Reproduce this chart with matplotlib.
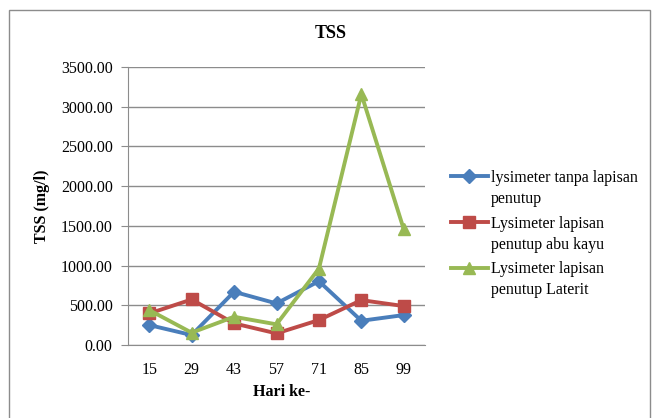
import matplotlib
matplotlib.use("Agg")
import matplotlib.pyplot as plt
from matplotlib.patches import Rectangle

days = [15, 29, 43, 57, 71, 85, 99]
tanpa_lapisan = [251, 125, 670, 523, 803, 305, 377]
abu_kayu = [397, 573, 272, 146, 314, 565, 490]
laterit = [440, 155, 355, 260, 962, 3159, 1456]
series_names = [("lysimeter tanpa lapisan", "penutup"),
                ("Lysimeter lapisan", "penutup abu kayu"),
                ("Lysimeter lapisan", "penutup Laterit")]
y_ticks = [0, 500, 1000, 1500, 2000, 2500, 3000, 3500]

plt.rcParams["font.family"] = ["Liberation Serif", "DejaVu Serif"]
FS = 11.5

W, H = 653, 418
fig = plt.figure(figsize=(W / 100, H / 100), dpi=100)
fig.patch.set_facecolor("white")
fig.patches.append(Rectangle((9 / W, -10 / H), 641 / W, 418 / H, transform=fig.transFigure,
                             fill=False, edgecolor="#8c8c8c", linewidth=1.0))

ax = fig.add_axes([128 / W, 1 - 345 / H, 297 / W, 278 / H])
x = list(range(len(days)))
ax.plot(x, tanpa_lapisan, color="#4a7ebb", lw=2.8, marker="D", ms=7, label=series_names[0][0])
ax.plot(x, abu_kayu, color="#be4b48", lw=2.8, marker="s", ms=8, label=series_names[1][0])
ax.plot(x, laterit, color="#98b954", lw=2.8, marker="^", ms=9, label=series_names[2][0])

ax.set_xlim(-0.5, len(days) - 0.5)
ax.set_ylim(0, 3500)
ax.set_yticks(y_ticks)
ax.set_yticklabels([f"{v:.2f}" for v in y_ticks], fontsize=FS)
ax.set_xticks(x)
ax.set_xticklabels([str(d) for d in days], fontsize=FS)
ax.tick_params(axis="x", length=0, pad=12)
ax.tick_params(axis="y", length=5, color="#8c8c8c", pad=6)
ax.grid(axis="y", color="#8c8c8c", lw=1.0)
ax.set_axisbelow(True)
for s in ["top", "right"]:
    ax.spines[s].set_visible(False)
for s in ["left", "bottom"]:
    ax.spines[s].set_color("#8c8c8c")

fig.text(282 / W, 1 - 392 / H, "Hari ke-", ha="center", va="center", fontsize=FS, fontweight="bold")
fig.text(42 / W, 1 - 206 / H, "TSS (mg/l)", ha="center", va="center", rotation=90,
         fontsize=FS, fontweight="bold")
fig.text(331 / W, 1 - 33 / H, "TSS", ha="center", va="center", fontsize=13, fontweight="bold")

# legend: handle sits beside the first line of each label, second line underneath
leg = fig.legend(loc="upper left", bbox_to_anchor=(451 / W, 1 - 170 / H), frameon=False,
                 fontsize=FS, handlelength=2.3, labelspacing=1.85, handletextpad=0.2,
                 borderpad=0, borderaxespad=0)
fig.canvas.draw()
renderer = fig.canvas.get_renderer()
for txt, names in zip(leg.get_texts(), series_names):
    bb = txt.get_window_extent(renderer)
    fig.text(bb.x0 / W, (bb.y0 + bb.y1) / 2 / H - 21 / H, names[1], ha="left", va="center",
             fontsize=FS)

fig.savefig("out.png", dpi=100)
